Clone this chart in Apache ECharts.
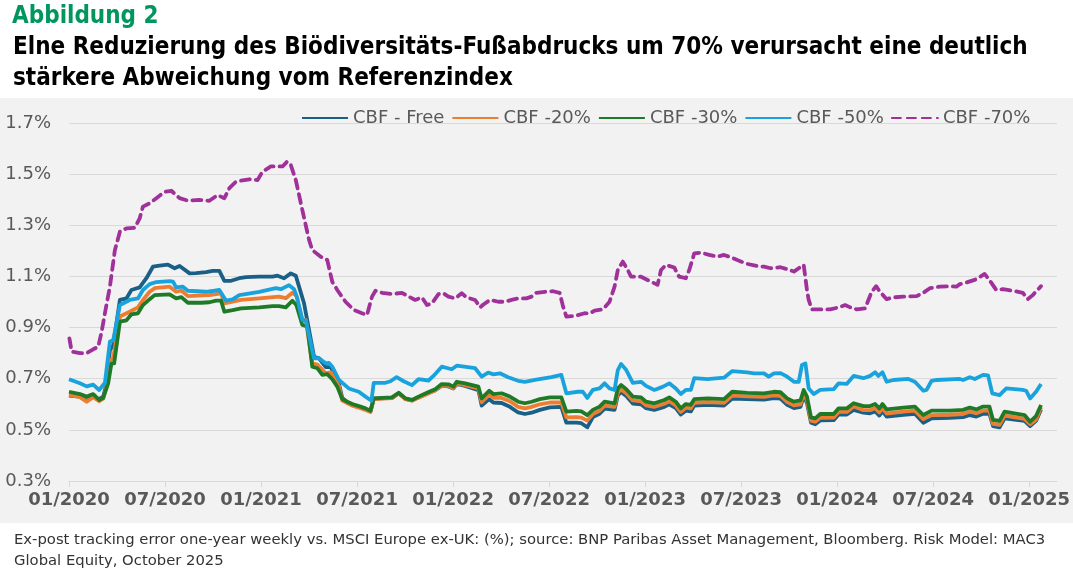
<!DOCTYPE html>
<html>
<head>
<meta charset="utf-8">
<script src="https://cdn.jsdelivr.net/npm/echarts@6/dist/echarts.min.js"></script>
<style>
  html, body { margin: 0; padding: 0; background: #fff; }
  #chart { width: 1073px; height: 572px; }
</style>
</head>
<body>
<div id="chart"></div>
<script>
// x = decimal year, y = tracking error in %
const cbfFree = [
    [2020.000, 0.634], [2020.057, 0.630], [2020.092, 0.613], [2020.126, 0.630], [2020.157, 0.620],
    [2020.178, 0.630], [2020.196, 0.682], [2020.213, 0.812], [2020.230, 0.830], [2020.265, 1.008],
    [2020.299, 1.014], [2020.325, 1.047], [2020.368, 1.057], [2020.403, 1.093], [2020.437, 1.138],
    [2020.472, 1.142], [2020.515, 1.146], [2020.550, 1.132], [2020.576, 1.141], [2020.628, 1.112],
    [2020.662, 1.113], [2020.714, 1.117], [2020.748, 1.122], [2020.783, 1.122], [2020.809, 1.083],
    [2020.844, 1.083], [2020.887, 1.093], [2020.922, 1.097], [2020.991, 1.099], [2021.060, 1.099],
    [2021.086, 1.103], [2021.120, 1.093], [2021.155, 1.112], [2021.181, 1.103], [2021.198, 1.060],
    [2021.224, 0.995], [2021.233, 0.995], [2021.276, 0.786], [2021.302, 0.780], [2021.337, 0.745],
    [2021.363, 0.745], [2021.406, 0.680], [2021.423, 0.625], [2021.449, 0.608], [2021.475, 0.598],
    [2021.518, 0.588], [2021.544, 0.582], [2021.570, 0.573], [2021.587, 0.622], [2021.682, 0.625],
    [2021.717, 0.643], [2021.752, 0.621], [2021.786, 0.615], [2021.820, 0.627], [2021.864, 0.641],
    [2021.907, 0.655], [2021.941, 0.672], [2021.976, 0.670], [2022.002, 0.662], [2022.019, 0.680],
    [2022.063, 0.672], [2022.132, 0.655], [2022.149, 0.595], [2022.188, 0.620], [2022.210, 0.607],
    [2022.253, 0.605], [2022.296, 0.590], [2022.339, 0.568], [2022.374, 0.562], [2022.409, 0.567],
    [2022.452, 0.578], [2022.504, 0.588], [2022.564, 0.590], [2022.590, 0.528], [2022.642, 0.528],
    [2022.668, 0.526], [2022.699, 0.510], [2022.728, 0.550], [2022.763, 0.563], [2022.789, 0.583],
    [2022.841, 0.578], [2022.858, 0.635], [2022.875, 0.648], [2022.902, 0.632], [2022.936, 0.603],
    [2022.979, 0.600], [2023.005, 0.585], [2023.048, 0.578], [2023.100, 0.590], [2023.126, 0.600],
    [2023.160, 0.585], [2023.186, 0.560], [2023.212, 0.575], [2023.238, 0.572], [2023.256, 0.595],
    [2023.325, 0.598], [2023.411, 0.595], [2023.454, 0.622], [2023.532, 0.620], [2023.619, 0.618],
    [2023.671, 0.624], [2023.705, 0.622], [2023.740, 0.598], [2023.775, 0.585], [2023.809, 0.590],
    [2023.826, 0.632], [2023.843, 0.605], [2023.864, 0.528], [2023.886, 0.522], [2023.912, 0.537],
    [2023.982, 0.538], [2024.008, 0.560], [2024.051, 0.560], [2024.086, 0.578], [2024.137, 0.567],
    [2024.172, 0.565], [2024.198, 0.572], [2024.220, 0.556], [2024.236, 0.573], [2024.258, 0.552],
    [2024.345, 0.559], [2024.405, 0.563], [2024.449, 0.528], [2024.492, 0.545], [2024.587, 0.547],
    [2024.656, 0.550], [2024.691, 0.558], [2024.725, 0.552], [2024.760, 0.563], [2024.793, 0.563],
    [2024.812, 0.515], [2024.846, 0.510], [2024.872, 0.545], [2024.976, 0.535], [2025.005, 0.515],
    [2025.036, 0.535], [2025.062, 0.580]
];
const cbf20 = [
    [2020.000, 0.637], [2020.057, 0.628], [2020.092, 0.610], [2020.126, 0.628], [2020.157, 0.612],
    [2020.178, 0.622], [2020.196, 0.672], [2020.213, 0.773], [2020.230, 0.780], [2020.265, 0.943],
    [2020.316, 0.962], [2020.359, 0.979], [2020.385, 1.008], [2020.420, 1.040], [2020.446, 1.054],
    [2020.524, 1.060], [2020.558, 1.040], [2020.585, 1.045], [2020.619, 1.023], [2020.731, 1.027],
    [2020.792, 1.034], [2020.809, 0.995], [2020.896, 1.008], [2020.991, 1.014], [2021.094, 1.021],
    [2021.129, 1.015], [2021.163, 1.036], [2021.184, 1.025], [2021.215, 0.930], [2021.233, 0.930],
    [2021.267, 0.760], [2021.293, 0.755], [2021.337, 0.721], [2021.363, 0.725], [2021.406, 0.670],
    [2021.423, 0.615], [2021.449, 0.605], [2021.475, 0.595], [2021.518, 0.585], [2021.544, 0.578],
    [2021.570, 0.570], [2021.587, 0.620], [2021.682, 0.624], [2021.717, 0.642], [2021.752, 0.620],
    [2021.786, 0.614], [2021.820, 0.626], [2021.864, 0.640], [2021.907, 0.655], [2021.941, 0.673],
    [2021.976, 0.672], [2022.002, 0.663], [2022.019, 0.682], [2022.063, 0.675], [2022.132, 0.662],
    [2022.149, 0.608], [2022.188, 0.638], [2022.210, 0.625], [2022.253, 0.625], [2022.296, 0.612],
    [2022.339, 0.590], [2022.374, 0.584], [2022.409, 0.590], [2022.452, 0.600], [2022.504, 0.607],
    [2022.564, 0.607], [2022.590, 0.549], [2022.642, 0.550], [2022.668, 0.548], [2022.699, 0.536],
    [2022.728, 0.562], [2022.763, 0.575], [2022.789, 0.595], [2022.841, 0.590], [2022.858, 0.645],
    [2022.875, 0.658], [2022.902, 0.643], [2022.936, 0.615], [2022.979, 0.612], [2023.005, 0.596],
    [2023.048, 0.590], [2023.100, 0.602], [2023.126, 0.612], [2023.160, 0.596], [2023.186, 0.570],
    [2023.212, 0.587], [2023.238, 0.584], [2023.256, 0.606], [2023.325, 0.609], [2023.411, 0.606],
    [2023.454, 0.634], [2023.532, 0.631], [2023.619, 0.629], [2023.671, 0.635], [2023.705, 0.633],
    [2023.740, 0.609], [2023.775, 0.596], [2023.809, 0.600], [2023.826, 0.642], [2023.843, 0.615],
    [2023.864, 0.536], [2023.886, 0.532], [2023.912, 0.547], [2023.982, 0.548], [2024.008, 0.570],
    [2024.051, 0.570], [2024.086, 0.592], [2024.137, 0.577], [2024.172, 0.577], [2024.198, 0.585],
    [2024.220, 0.568], [2024.236, 0.585], [2024.258, 0.564], [2024.345, 0.571], [2024.405, 0.575],
    [2024.449, 0.542], [2024.492, 0.558], [2024.587, 0.559], [2024.656, 0.562], [2024.691, 0.571],
    [2024.725, 0.565], [2024.760, 0.575], [2024.793, 0.575], [2024.812, 0.523], [2024.846, 0.520],
    [2024.872, 0.556], [2024.976, 0.543], [2025.005, 0.522], [2025.036, 0.540], [2025.062, 0.588]
];
const cbf30 = [
    [2020.000, 0.649], [2020.057, 0.640], [2020.092, 0.630], [2020.126, 0.640], [2020.157, 0.617],
    [2020.178, 0.625], [2020.204, 0.682], [2020.221, 0.760], [2020.235, 0.760], [2020.265, 0.923],
    [2020.299, 0.928], [2020.325, 0.952], [2020.359, 0.956], [2020.385, 0.988], [2020.420, 1.011],
    [2020.446, 1.027], [2020.524, 1.030], [2020.558, 1.014], [2020.585, 1.019], [2020.619, 0.997],
    [2020.690, 0.997], [2020.731, 0.999], [2020.766, 1.005], [2020.792, 1.005], [2020.809, 0.962],
    [2020.852, 0.968], [2020.896, 0.975], [2020.991, 0.979], [2021.060, 0.984], [2021.094, 0.984],
    [2021.129, 0.979], [2021.163, 1.005], [2021.184, 0.988], [2021.215, 0.910], [2021.241, 0.905],
    [2021.267, 0.747], [2021.293, 0.741], [2021.319, 0.715], [2021.345, 0.718], [2021.371, 0.698],
    [2021.397, 0.669], [2021.423, 0.620], [2021.449, 0.610], [2021.475, 0.601], [2021.518, 0.591],
    [2021.544, 0.584], [2021.570, 0.575], [2021.587, 0.623], [2021.682, 0.627], [2021.717, 0.645],
    [2021.752, 0.623], [2021.786, 0.617], [2021.820, 0.630], [2021.864, 0.645], [2021.907, 0.659],
    [2021.941, 0.679], [2021.976, 0.678], [2022.002, 0.669], [2022.019, 0.688], [2022.063, 0.682],
    [2022.132, 0.669], [2022.149, 0.623], [2022.188, 0.653], [2022.210, 0.640], [2022.253, 0.643],
    [2022.296, 0.630], [2022.339, 0.610], [2022.374, 0.604], [2022.409, 0.610], [2022.452, 0.620],
    [2022.504, 0.627], [2022.564, 0.627], [2022.590, 0.571], [2022.642, 0.574], [2022.668, 0.572],
    [2022.699, 0.558], [2022.728, 0.578], [2022.763, 0.591], [2022.789, 0.610], [2022.841, 0.604],
    [2022.858, 0.662], [2022.875, 0.675], [2022.902, 0.659], [2022.936, 0.630], [2022.979, 0.627],
    [2023.005, 0.610], [2023.048, 0.604], [2023.100, 0.617], [2023.126, 0.627], [2023.160, 0.610],
    [2023.186, 0.584], [2023.212, 0.601], [2023.238, 0.598], [2023.256, 0.620], [2023.325, 0.623],
    [2023.411, 0.620], [2023.454, 0.649], [2023.532, 0.645], [2023.619, 0.643], [2023.671, 0.649],
    [2023.705, 0.647], [2023.740, 0.623], [2023.775, 0.610], [2023.809, 0.615], [2023.826, 0.656],
    [2023.843, 0.630], [2023.864, 0.549], [2023.886, 0.545], [2023.912, 0.562], [2023.982, 0.562],
    [2024.008, 0.584], [2024.051, 0.584], [2024.086, 0.604], [2024.137, 0.593], [2024.172, 0.593],
    [2024.198, 0.601], [2024.220, 0.584], [2024.236, 0.601], [2024.258, 0.580], [2024.345, 0.587],
    [2024.405, 0.591], [2024.449, 0.558], [2024.492, 0.575], [2024.587, 0.575], [2024.656, 0.578],
    [2024.691, 0.587], [2024.725, 0.580], [2024.760, 0.591], [2024.793, 0.591], [2024.812, 0.539],
    [2024.846, 0.535], [2024.872, 0.571], [2024.976, 0.558], [2025.005, 0.532], [2025.036, 0.554],
    [2025.062, 0.597]
];
const cbf50 = [
    [2020.000, 0.698], [2020.057, 0.682], [2020.092, 0.670], [2020.126, 0.677], [2020.157, 0.656],
    [2020.187, 0.684], [2020.213, 0.845], [2020.230, 0.850], [2020.265, 0.988], [2020.316, 1.008],
    [2020.359, 1.014], [2020.385, 1.047], [2020.420, 1.070], [2020.455, 1.078], [2020.524, 1.082],
    [2020.541, 1.080], [2020.558, 1.057], [2020.593, 1.060], [2020.619, 1.044], [2020.714, 1.040],
    [2020.757, 1.044], [2020.783, 1.047], [2020.818, 1.005], [2020.852, 1.010], [2020.887, 1.027],
    [2020.991, 1.040], [2021.077, 1.054], [2021.103, 1.050], [2021.146, 1.066], [2021.172, 1.050],
    [2021.189, 1.014], [2021.215, 0.930], [2021.233, 0.928], [2021.276, 0.780], [2021.302, 0.780],
    [2021.337, 0.760], [2021.354, 0.762], [2021.371, 0.747], [2021.406, 0.695], [2021.457, 0.662],
    [2021.509, 0.649], [2021.544, 0.630], [2021.575, 0.614], [2021.587, 0.684], [2021.648, 0.684],
    [2021.674, 0.690], [2021.706, 0.706], [2021.743, 0.690], [2021.786, 0.675], [2021.820, 0.698],
    [2021.872, 0.693], [2021.898, 0.711], [2021.941, 0.747], [2021.993, 0.737], [2022.019, 0.751],
    [2022.115, 0.741], [2022.149, 0.708], [2022.183, 0.724], [2022.210, 0.717], [2022.244, 0.721],
    [2022.287, 0.706], [2022.339, 0.692], [2022.374, 0.688], [2022.426, 0.695], [2022.512, 0.706],
    [2022.564, 0.715], [2022.590, 0.643], [2022.650, 0.649], [2022.676, 0.649], [2022.699, 0.625],
    [2022.728, 0.656], [2022.763, 0.662], [2022.789, 0.682], [2022.815, 0.662], [2022.841, 0.656],
    [2022.858, 0.734], [2022.875, 0.758], [2022.902, 0.734], [2022.936, 0.684], [2022.979, 0.688],
    [2023.005, 0.672], [2023.048, 0.656], [2023.091, 0.668], [2023.126, 0.682], [2023.160, 0.662],
    [2023.186, 0.640], [2023.212, 0.656], [2023.238, 0.656], [2023.256, 0.702], [2023.325, 0.698],
    [2023.411, 0.704], [2023.454, 0.730], [2023.532, 0.725], [2023.567, 0.721], [2023.619, 0.721],
    [2023.644, 0.708], [2023.671, 0.721], [2023.705, 0.722], [2023.740, 0.708], [2023.775, 0.688],
    [2023.800, 0.688], [2023.817, 0.754], [2023.835, 0.760], [2023.852, 0.662], [2023.878, 0.640],
    [2023.912, 0.656], [2023.982, 0.659], [2024.008, 0.682], [2024.051, 0.680], [2024.086, 0.711],
    [2024.137, 0.702], [2024.172, 0.711], [2024.198, 0.725], [2024.215, 0.711], [2024.236, 0.725],
    [2024.258, 0.688], [2024.293, 0.695], [2024.371, 0.699], [2024.405, 0.688], [2024.449, 0.653],
    [2024.466, 0.656], [2024.492, 0.692], [2024.518, 0.695], [2024.639, 0.699], [2024.656, 0.695],
    [2024.691, 0.706], [2024.717, 0.699], [2024.760, 0.715], [2024.786, 0.713], [2024.808, 0.643],
    [2024.846, 0.636], [2024.881, 0.662], [2024.967, 0.656], [2024.984, 0.653], [2025.005, 0.623],
    [2025.036, 0.649], [2025.062, 0.679]
];
const cbf70 = [
    [2020.002, 0.858], [2020.014, 0.806], [2020.057, 0.800], [2020.092, 0.800], [2020.126, 0.815],
    [2020.152, 0.825], [2020.170, 0.884], [2020.187, 0.956], [2020.213, 1.060], [2020.239, 1.203],
    [2020.265, 1.275], [2020.299, 1.288], [2020.342, 1.290], [2020.368, 1.327], [2020.385, 1.373],
    [2020.420, 1.386], [2020.455, 1.406], [2020.498, 1.431], [2020.533, 1.435], [2020.576, 1.406],
    [2020.619, 1.396], [2020.679, 1.399], [2020.731, 1.396], [2020.774, 1.418], [2020.809, 1.406],
    [2020.835, 1.445], [2020.870, 1.471], [2020.939, 1.480], [2020.982, 1.477], [2021.008, 1.510],
    [2021.051, 1.530], [2021.112, 1.530], [2021.136, 1.549], [2021.155, 1.536], [2021.181, 1.477],
    [2021.215, 1.360], [2021.250, 1.243], [2021.267, 1.203], [2021.311, 1.177], [2021.345, 1.164],
    [2021.371, 1.079], [2021.397, 1.047], [2021.440, 1.001], [2021.483, 0.969], [2021.526, 0.956],
    [2021.552, 0.949], [2021.578, 1.021], [2021.596, 1.044], [2021.630, 1.036], [2021.682, 1.031],
    [2021.734, 1.036], [2021.769, 1.021], [2021.803, 1.008], [2021.838, 1.018], [2021.864, 0.988],
    [2021.890, 0.995], [2021.924, 1.031], [2021.950, 1.034], [2021.976, 1.021], [2022.011, 1.014],
    [2022.045, 1.034], [2022.071, 1.018], [2022.115, 1.008], [2022.141, 0.979], [2022.158, 0.990],
    [2022.192, 1.008], [2022.236, 1.001], [2022.270, 1.001], [2022.304, 1.008], [2022.339, 1.014],
    [2022.382, 1.014], [2022.409, 1.021], [2022.434, 1.036], [2022.478, 1.040], [2022.521, 1.042],
    [2022.555, 1.036], [2022.573, 0.982], [2022.590, 0.943], [2022.633, 0.945], [2022.685, 0.956],
    [2022.711, 0.955], [2022.737, 0.966], [2022.780, 0.971], [2022.815, 1.001], [2022.841, 1.060],
    [2022.858, 1.125], [2022.884, 1.158], [2022.910, 1.125], [2022.927, 1.099], [2022.979, 1.099],
    [2023.013, 1.086], [2023.065, 1.067], [2023.083, 1.125], [2023.108, 1.145], [2023.152, 1.135],
    [2023.177, 1.099], [2023.212, 1.093], [2023.230, 1.125], [2023.256, 1.190], [2023.290, 1.193],
    [2023.334, 1.184], [2023.377, 1.177], [2023.411, 1.184], [2023.446, 1.175], [2023.480, 1.164],
    [2023.532, 1.149], [2023.584, 1.141], [2023.619, 1.138], [2023.653, 1.132], [2023.705, 1.136],
    [2023.740, 1.128], [2023.775, 1.119], [2023.800, 1.132], [2023.826, 1.145], [2023.843, 1.047],
    [2023.852, 1.008], [2023.869, 0.971], [2023.912, 0.971], [2023.964, 0.971], [2024.008, 0.979],
    [2024.042, 0.988], [2024.068, 0.979], [2024.103, 0.971], [2024.146, 0.975], [2024.163, 1.008],
    [2024.180, 1.040], [2024.203, 1.062], [2024.223, 1.040], [2024.258, 1.011], [2024.293, 1.018],
    [2024.345, 1.021], [2024.414, 1.023], [2024.449, 1.036], [2024.483, 1.054], [2024.535, 1.060],
    [2024.587, 1.062], [2024.621, 1.060], [2024.639, 1.070], [2024.673, 1.076], [2024.725, 1.089],
    [2024.768, 1.110], [2024.793, 1.086], [2024.829, 1.047], [2024.864, 1.050], [2024.915, 1.044],
    [2024.967, 1.036], [2024.993, 1.011], [2025.019, 1.027], [2025.062, 1.062]
];

const seriesNames = ['CBF - Free', 'CBF -20%', 'CBF -30%', 'CBF -50%', 'CBF -70%'];
const tickYears = [2020, 2020.5, 2021, 2021.5, 2022, 2022.5, 2023, 2023.5, 2024, 2024.5, 2025];
const tickLabels = ['01/2020', '07/2020', '01/2021', '07/2021', '01/2022', '07/2022',
    '01/2023', '07/2023', '01/2024', '07/2024', '01/2025'];

const colors = ['#1a5f85', '#ed7d31', '#1f7a28', '#19a3dd', '#a0309a'];
const allData = [cbfFree, cbf20, cbf30, cbf50, cbf70];

const axisFont = 'DejaVu Sans';
const titleFont = '"DejaVu Sans Condensed", "DejaVu Sans"';

let chart = echarts.init(document.getElementById('chart'));

let series = seriesNames.map((name, i) => ({
    name: name,
    type: 'line',
    data: allData[i],
    showSymbol: false,
    symbol: 'none',
    smooth: false,
    animation: false,
    lineStyle: {
        color: colors[i],
        width: 3.8,
        type: i === 4 ? [9, 6] : 'solid',
        cap: i === 4 ? 'round' : 'butt',
        join: 'round',
    },
    itemStyle: {color: colors[i]},
    z: 2 + i,
}));

let option = {
    backgroundColor: '#ffffff',
    animation: false,
    graphic: [
        {
            type: 'rect',
            z: -10,
            silent: true,
            shape: {x: 0, y: 98, width: 1073, height: 425},
            style: {fill: '#f2f2f2'},
        },
        {
            type: 'text',
            left: 12,
            top: 5,
            style: {text: 'Abbildung 2', font: 'bold 24px ' + titleFont, fill: '#00965e'},
        },
        {
            type: 'text',
            left: 13,
            top: 36,
            style: {
                text: 'Elne Reduzierung des Biödiversitäts-Fußabdrucks um 70% verursacht eine deutlich',
                font: 'bold 24px ' + titleFont,
                fill: '#000000',
            },
        },
        {
            type: 'text',
            left: 13,
            top: 67,
            style: {text: 'stärkere Abweichung vom Referenzindex', font: 'bold 24px ' + titleFont, fill: '#000000'},
        },
        {
            type: 'text',
            left: 14,
            top: 533,
            style: {
                text: 'Ex-post tracking error one-year weekly vs. MSCI Europe ex-UK: (%); source: BNP Paribas Asset Management, Bloomberg. Risk Model: MAC3',
                font: '14.8px ' + axisFont,
                fill: '#333333',
            },
        },
        {
            type: 'text',
            left: 14,
            top: 554,
            style: {text: 'Global Equity, October 2025', font: '14.8px ' + axisFont, fill: '#333333'},
        },
    ],
    legend: {
        data: seriesNames,
        left: 296,
        top: 104,
        itemWidth: 46,
        itemHeight: 14,
        itemGap: 7,
        itemStyle: {opacity: 0},
        textStyle: {color: '#595959', fontSize: 18, fontFamily: axisFont},
        inactiveColor: '#ccc',
    },
    grid: {
        left: 69,
        right: 12,
        top: 123,
        bottom: 91,
        containLabel: false,
    },
    xAxis: {
        type: 'value',
        min: 2020,
        max: 2025.145,
        axisLine: {show: true, lineStyle: {color: '#d9d9d9', width: 1}},
        axisTick: {show: true, length: 6, lineStyle: {color: '#d9d9d9'}, customValues: tickYears},
        splitLine: {show: false},
        axisLabel: {
            customValues: tickYears,
            color: '#595959',
            fontSize: 18,
            fontFamily: axisFont,
            fontWeight: 'bold',
            margin: 10,
            formatter: v => {
                let idx = tickYears.findIndex(t => Math.abs(t - v) < 1e-6);
                return idx >= 0 ? tickLabels[idx] : '';
            },
        },
    },
    yAxis: {
        type: 'value',
        min: 0.3,
        max: 1.7,
        interval: 0.2,
        axisLine: {show: false},
        axisTick: {show: false},
        splitLine: {lineStyle: {color: '#d9d9d9', width: 1}},
        axisLabel: {
            color: '#595959',
            fontSize: 18,
            fontFamily: axisFont,
            margin: 18,
            formatter: v => v.toFixed(1) + '%',
        },
    },
    series: series,
};

chart.setOption(option);
</script>
</body>
</html>
